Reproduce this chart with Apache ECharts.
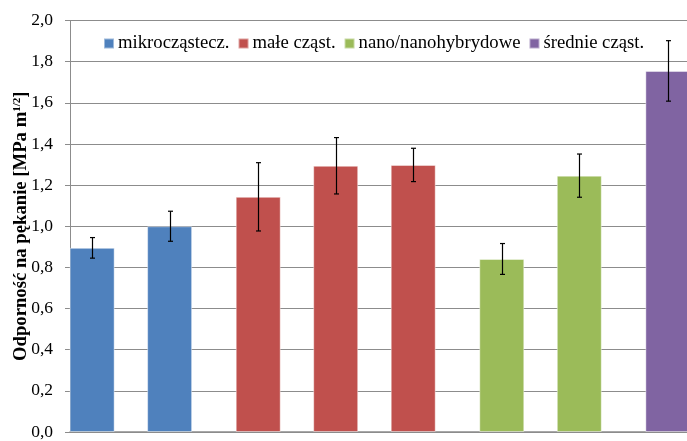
<!DOCTYPE html>
<html>
<head>
<meta charset="utf-8">
<script src="https://cdn.jsdelivr.net/npm/echarts@6/dist/echarts.min.js"></script>
<style>
  html, body { margin: 0; padding: 0; background: #fff; }
  #chart { width: 687px; height: 441px; }
</style>
</head>
<body>
<div id="chart"></div>
<script>
// Particle-size groups and their fracture toughness (mean and error) per sample
const groups = ['mikrocząstecz.', 'małe cząst.', 'nano/nanohybrydowe', 'średnie cząst.'];
const groupColors = ['#4F81BD', '#C0504D', '#9BBB59', '#8064A2'];
const toughness = [
  [0.895, 1.000],
  [1.143, 1.294, 1.298],
  [0.841, 1.246],
  [1.755]
];
const toughnessErr = [
  [0.050, 0.073],
  [0.166, 0.137, 0.081],
  [0.075, 0.105],
  [0.147]
];
const yTicks = [0, 0.2, 0.4, 0.6, 0.8, 1.0, 1.2, 1.4, 1.6, 1.8, 2.0];

// Slot layout: bars within a group 7 slots apart, one extra slot between groups
const SLOT_STEP = 7, GROUP_EXTRA = 1, FIRST_SLOT = 2, TOTAL_SLOTS = 56;

const serif = '"Liberation Serif", "Times New Roman", serif';
const series = [];
const errData = [];
let k = 0;
groups.forEach((name, g) => {
  const data = [];
  toughness[g].forEach((v, j) => {
    const x = FIRST_SLOT + SLOT_STEP * k + GROUP_EXTRA * g;
    data.push([x, v]);
    errData.push([x, v - toughnessErr[g][j], v + toughnessErr[g][j]]);
    k++;
  });
  series.push({
    name: name,
    type: 'bar',
    barWidth: 45,
    barGap: '-100%',
    itemStyle: { color: groupColors[g], borderColor: 'rgba(255,255,255,0.45)', borderWidth: 1 },
    data: data,
    z: 2
  });
});

// Error bars: vertical whisker with short caps
series.push({
  type: 'custom',
  name: 'err',
  z: 5,
  data: errData,
  renderItem: function (params, api) {
    const x = api.value(0);
    const lo = api.coord([x, api.value(1)]);
    const hi = api.coord([x, api.value(2)]);
    const cx = Math.round(lo[0]) + 0.5;
    const cap = 2.5;
    const st = { stroke: '#000', lineWidth: 1.2 };
    return {
      type: 'group',
      children: [
        { type: 'line', shape: { x1: cx, y1: hi[1], x2: cx, y2: lo[1] }, style: st },
        { type: 'line', shape: { x1: cx - cap, y1: hi[1], x2: cx + cap, y2: hi[1] }, style: st },
        { type: 'line', shape: { x1: cx - cap, y1: lo[1], x2: cx + cap, y2: lo[1] }, style: st }
      ]
    };
  }
});

const chart = echarts.init(document.getElementById('chart'));
chart.setOption({
  animation: false,
  backgroundColor: '#fff',
  color: groupColors,
  textStyle: { fontFamily: serif },
  grid: { left: 70, right: -3, top: 20.5, bottom: 9, containLabel: false, outerBoundsMode: 'none' },
  legend: {
    data: groups,
    left: 98,
    top: 29,
    itemWidth: 10,
    itemHeight: 10,
    itemGap: 8,
    icon: 'rect',
    textStyle: { fontFamily: serif, fontSize: 18.7, color: '#000', padding: [0, 0, 0, -1] }
  },
  xAxis: {
    type: 'value',
    min: 0,
    max: TOTAL_SLOTS,
    axisLabel: { show: false },
    axisTick: { show: false },
    splitLine: { show: false },
    axisLine: { show: true, onZero: false, lineStyle: { color: '#8c8c8c', width: 1.5 } }
  },
  yAxis: {
    type: 'value',
    min: 0,
    max: 2,
    interval: 0.2,
    name: '{b|Odporność na pękanie [MPa m}{s|1/2}{b|]}',
    nameLocation: 'middle',
    nameRotate: 90,
    nameGap: 39,
    nameMoveOverlap: false,
    nameTextStyle: {
      rich: {
        b: { fontFamily: serif, fontSize: 18.7, fontWeight: 'bold', color: '#000' },
        s: { fontFamily: serif, fontSize: 11, fontWeight: 'bold', color: '#000', verticalAlign: 'top', padding: [0, 0, 7, 0] }
      }
    },
    axisLine: { show: true, lineStyle: { color: '#8c8c8c', width: 1 } },
    axisTick: { show: true, length: 5, lineStyle: { color: '#8c8c8c' } },
    axisLabel: {
      fontFamily: serif,
      fontSize: 17.5,
      color: '#000',
      margin: 17,
      formatter: function (v) {
        const t = yTicks.find(t => Math.abs(t - v) < 1e-9);
        return (t !== undefined ? t : v).toFixed(1).replace('.', ',');
      }
    },
    splitLine: { show: true, lineStyle: { color: '#8c8c8c', width: 1 } }
  },
  series: series
});
</script>
</body>
</html>
